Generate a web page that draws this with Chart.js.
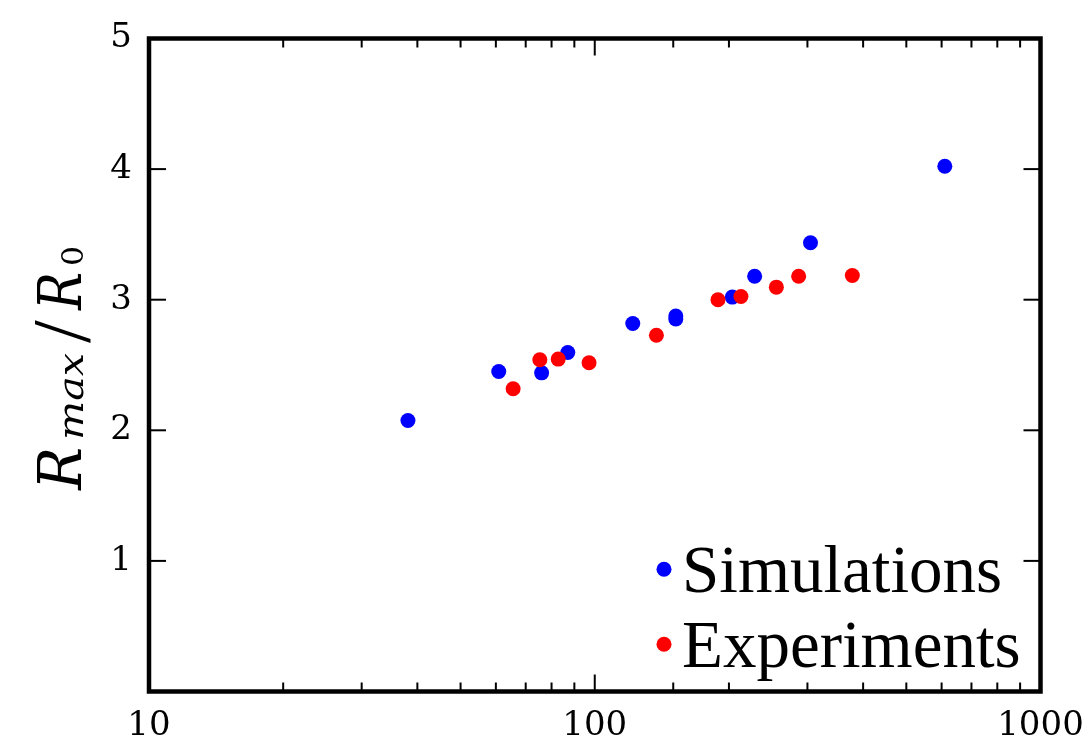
<!DOCTYPE html>
<html><head><meta charset="utf-8">
<script src="https://cdn.jsdelivr.net/npm/chart.js@4.4.0/dist/chart.umd.min.js"></script>
<style>html,body{margin:0;padding:0;background:#fff}#wrap{width:1088px;height:752px;position:relative}</style>
</head><body><div id="wrap"><canvas id="c"></canvas></div>
<script>
// ---- data ----
const simLabel = 'Simulations';
const simX = [38.1, 60.9, 76.0, 87.0, 121.7, 152, 152, 203.5, 228.4, 304.8, 610];
const simY = [2.075, 2.45, 2.44, 2.596, 2.818, 2.852, 2.875, 3.02, 3.18, 3.436, 4.022];
const expLabel = 'Experiments';
const expX = [65.6, 75.3, 82.8, 97.1, 137.5, 189, 212.8, 255.5, 286.7, 378.3];
const expY = [2.318, 2.54, 2.545, 2.517, 2.728, 3.0, 3.024, 3.096, 3.18, 3.185];
const xTickValues = [10, 100, 1000];
const xTickLabels = ['10', '100', '1000'];
const yTickValues = [1, 2, 3, 4, 5];
const yTickLabels = ['1', '2', '3', '4', '5'];

const toPts = (xs, ys) => xs.map((x, i) => ({x: x, y: ys[i]}));
const isDecade = v => { const l = Math.log10(v); return Math.abs(l - Math.round(l)) < 1e-9; };

const framePlugin = {
  id: 'frame',
  afterDatasetsDraw(chart) {
    const {ctx, chartArea: a, scales: {x, y}} = chart;
    ctx.save();
    ctx.strokeStyle = '#000';
    ctx.lineWidth = 2;
    const line = (x1, y1, x2, y2) => { ctx.beginPath(); ctx.moveTo(x1, y1); ctx.lineTo(x2, y2); ctx.stroke(); };
    x.ticks.forEach(t => {
      const px = x.getPixelForValue(t.value);
      if (px < a.left + 2 || px > a.right - 2) return;
      const len = isDecade(t.value) ? 17 : 9;
      line(px, a.bottom, px, a.bottom - len);
      line(px, a.top, px, a.top + len);
    });
    y.ticks.forEach(t => {
      const py = y.getPixelForValue(t.value);
      if (py > a.bottom - 2 || py < a.top + 2) return;
      line(a.left, py, a.left + 17, py);
      line(a.right, py, a.right - 17, py);
    });
    ctx.lineWidth = 4.5;
    ctx.strokeRect(a.left, a.top, a.right - a.left, a.bottom - a.top);
    ctx.restore();
  }
};

const legendPlugin = {
  id: 'mplLegend',
  afterDatasetsDraw(chart) {
    const {ctx, chartArea: a} = chart;
    const ds = [chart.data.datasets[0], chart.data.datasets[1]];
    const baselines = [591.7, 666.7];
    ctx.save();
    ctx.font = '67px "Liberation Serif"';
    ctx.textBaseline = 'alphabetic';
    ctx.textAlign = 'left';
    ds.forEach((d, i) => {
      const bl = baselines[i];
      ctx.fillStyle = d.backgroundColor;
      ctx.beginPath(); ctx.arc(a.left + 515, bl - 22.5, 7.5, 0, Math.PI * 2); ctx.fill();
      ctx.fillStyle = '#000';
      ctx.fillText(d.label, a.left + 533, bl);
    });
    ctx.restore();
  }
};

const yTitlePlugin = {
  id: 'yTitle',
  afterDraw(chart) {
    const ctx = chart.ctx;
    // s: start offset along the text, L: target length (optional), dy: baseline shift
    const parts = [
      {t: 'R',   f: 'italic 59px "DejaVu Serif"', s: 0,   L: 43, dy: 0},
      {t: 'max', f: 'italic 36px "DejaVu Serif"', s: 50,  L: 87, dy: 2},
      {t: '/',   f: '82px "Liberation Serif"',    s: 147, L: 0,  dy: 8},
      {t: 'R',   f: 'italic 59px "DejaVu Serif"', s: 180, L: 38, dy: 0},
      {t: '0',   f: '29px "DejaVu Serif"',        s: 224, L: 20, dy: 2}
    ];
    ctx.save();
    ctx.translate(81, 490);
    ctx.rotate(-Math.PI / 2);
    ctx.fillStyle = '#000';
    ctx.textBaseline = 'alphabetic';
    ctx.textAlign = 'left';
    parts.forEach(p => {
      ctx.font = p.f;
      const w = ctx.measureText(p.t).width;
      ctx.save();
      ctx.translate(p.s, p.dy);
      if (p.L) ctx.scale(p.L / w, 1);
      ctx.fillText(p.t, 0, 0);
      ctx.restore();
    });
    ctx.restore();
  }
};

new Chart(document.getElementById('c'), {
  type: 'scatter',
  data: {
    datasets: [
      {label: simLabel, data: toPts(simX, simY), backgroundColor: '#0000ff', borderColor: '#0000ff', pointRadius: 7.5, pointBorderWidth: 0, order: 2},
      {label: expLabel, data: toPts(expX, expY), backgroundColor: '#ff0000', borderColor: '#ff0000', pointRadius: 7.5, pointBorderWidth: 0, order: 1}
    ]
  },
  options: {
    responsive: true,
    maintainAspectRatio: false,
    animation: false,
    layout: {padding: {top: 38.5, right: 47.5, left: 0, bottom: 0}},
    plugins: {legend: {display: false}, tooltip: {enabled: false}},
    scales: {
      x: {
        type: 'logarithmic', min: 10, max: 1000,
        grid: {display: false, drawTicks: false},
        border: {display: false},
        afterFit(s) { s.height = 60.5; s.paddingLeft = 0; s.paddingRight = 0; },
        ticks: {
          autoSkip: false, maxRotation: 0, padding: 14, color: '#000',
          font: {family: '"DejaVu Serif"', size: 34},
          callback(v) { const i = xTickValues.indexOf(v); return i >= 0 ? xTickLabels[i] : ''; }
        }
      },
      y: {
        type: 'linear', min: 0, max: 5,
        grid: {display: false, drawTicks: false},
        border: {display: false},
        afterFit(s) { s.width = 149; s.paddingTop = 0; s.paddingBottom = 0; },
        ticks: {
          stepSize: 1, padding: 17, color: '#000',
          font: {family: '"DejaVu Serif"', size: 34},
          callback(v) { const i = yTickValues.indexOf(v); return i >= 0 ? yTickLabels[i] : ''; }
        }
      }
    }
  },
  plugins: [framePlugin, legendPlugin, yTitlePlugin]
});
</script>
</body></html>
